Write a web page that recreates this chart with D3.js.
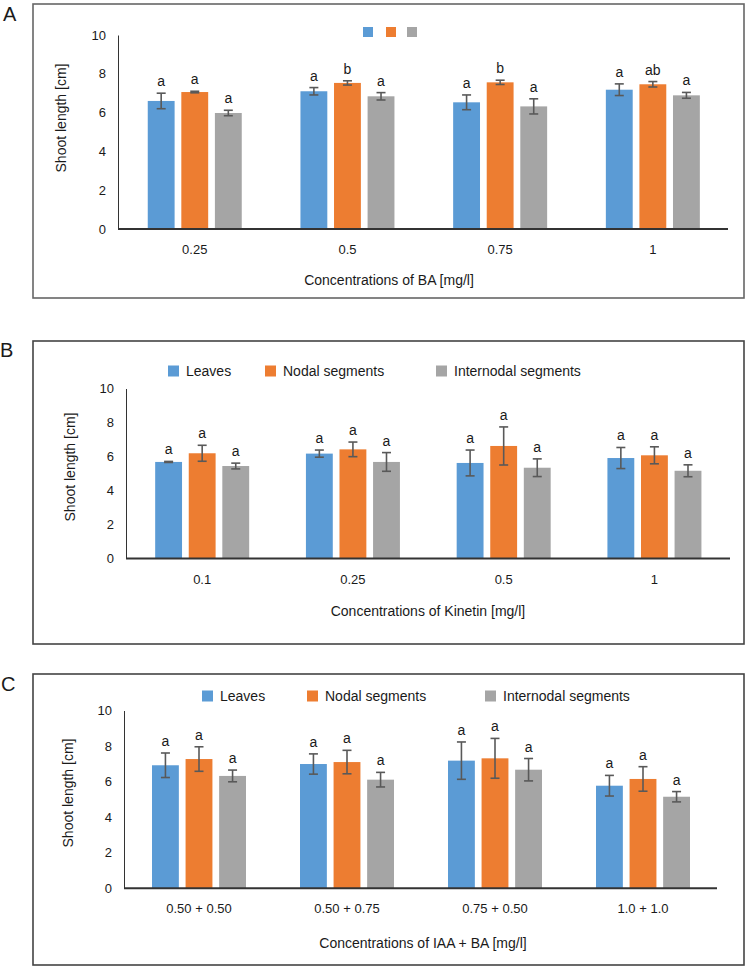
<!DOCTYPE html>
<html>
<head>
<meta charset="utf-8">
<script src="https://cdn.jsdelivr.net/npm/d3@7"></script>
<style>
  body { margin: 0; background: #fff; }
  svg text { font-family: "Liberation Sans", Arial, sans-serif; fill: #1a1a1a; }
</style>
</head>
<body>
<div id="VisContainer"></div>
<script>
// data
var seriesNames = ["Leaves", "Nodal segments", "Internodal segments"];
var seriesColors = ["#5B9BD5", "#ED7D31", "#A5A5A5"];
var yTicks = [0, 2, 4, 6, 8, 10];

var catsA = ["0.25", "0.5", "0.75", "1"];
var meanA = [[6.60, 7.06, 5.98], [7.10, 7.53, 6.84], [6.53, 7.56, 6.32], [7.18, 7.46, 6.89]];
var errA  = [[0.40, 0.04, 0.14], [0.19, 0.11, 0.19], [0.38, 0.11, 0.39], [0.30, 0.14, 0.15]];
var lettersA = [["a", "a", "a"], ["a", "b", "a"], ["a", "b", "a"], ["a", "ab", "a"]];

var catsB = ["0.1", "0.25", "0.5", "1"];
var meanB = [[5.68, 6.19, 5.44], [6.17, 6.42, 5.68], [5.62, 6.62, 5.34], [5.91, 6.07, 5.16]];
var errB  = [[0.03, 0.47, 0.17], [0.21, 0.43, 0.55], [0.76, 1.12, 0.52], [0.62, 0.50, 0.35]];
var lettersB = [["a", "a", "a"], ["a", "a", "a"], ["a", "a", "a"], ["a", "a", "a"]];

var catsC = ["0.50 + 0.50", "0.50 + 0.75", "0.75 + 0.50", "1.0 + 1.0"];
var meanC = [[6.92, 7.27, 6.32], [6.99, 7.10, 6.11], [7.18, 7.31, 6.67], [5.77, 6.15, 5.15]];
var errC  = [[0.69, 0.69, 0.33], [0.57, 0.66, 0.41], [1.05, 1.12, 0.63], [0.58, 0.69, 0.29]];
var lettersC = [["a", "a", "a"], ["a", "a", "a"], ["a", "a", "a"], ["a", "a", "a"]];

var width = 748, height = 970;

var svg = d3.select("#VisContainer").append("svg")
    .attr("width", width)
    .attr("height", height);

// layout of the three panels
var panels = [
  { letter: "A", letterPos: [3, 21], frame: [33, 4, 744, 298], frameColor: "#666",
    cats: catsA, mean: meanA, err: errA, letters: lettersA,
    axisX: [118, 728], xRange: [118.4, 729.2], y0: 229, y10: 35, tickY: 249,
    title: "Concentrations of BA [mg/l]", titleX: 389, titleY: 280,
    yTitleX: 61, yTitleY: 118,
    legend: { y: 32, squares: [363, 386, 407], size: 10, text: false } },
  { letter: "B", letterPos: [0, 357], frame: [33, 341, 744, 644], frameColor: "#444",
    cats: catsB, mean: meanB, err: errB, letters: lettersB,
    axisX: [126, 730], xRange: [126.8, 729.8], y0: 558.5, y10: 388.5, tickY: 579,
    title: "Concentrations of Kinetin [mg/l]", titleX: 428, titleY: 611,
    yTitleX: 70, yTitleY: 467,
    legend: { y: 371, squares: [168, 265, 436], size: 11, text: true } },
  { letter: "C", letterPos: [1, 691], frame: [33, 674, 744, 965], frameColor: "#444",
    cats: catsC, mean: meanC, err: errC, letters: lettersC,
    axisX: [124, 717], xRange: [125, 717], y0: 888.3, y10: 710.5, tickY: 908,
    title: "Concentrations of IAA + BA [mg/l]", titleX: 423, titleY: 943,
    yTitleX: 68, yTitleY: 793,
    legend: { y: 696, squares: [202, 307, 485], size: 11, text: true } }
];

panels.forEach(drawPanel);

function drawPanel(p) {
  var g = svg.append("g");

  g.append("rect")
    .attr("x", p.frame[0]).attr("y", p.frame[1])
    .attr("width", p.frame[2] - p.frame[0])
    .attr("height", p.frame[3] - p.frame[1])
    .attr("fill", "none")
    .attr("stroke", p.frameColor)
    .attr("stroke-width", 1.6);

  g.append("text")
    .attr("x", p.letterPos[0]).attr("y", p.letterPos[1])
    .style("font-size", "20px")
    .text(p.letter);

  var x = d3.scaleBand().domain(p.cats).range(p.xRange).padding(0);
  var xs = d3.scaleBand().domain(seriesNames).range([-47, 47]).paddingInner(0.2);
  var y = d3.scaleLinear().domain([0, 10]).range([p.y0, p.y10]);

  // y axis: line + labels, no ticks
  var yAxis = g.append("g")
    .attr("transform", "translate(" + p.axisX[0] + ",0)")
    .call(d3.axisLeft(y).tickValues(yTicks).tickSize(0).tickPadding(12));
  yAxis.select(".domain").attr("stroke", "#333").attr("stroke-width", 1);
  yAxis.selectAll("text")
    .style("font-size", "13px")
    .style("font-family", "Liberation Sans, Arial, sans-serif")
    .attr("fill", "#1a1a1a");

  g.append("text")
    .attr("transform", "translate(" + p.yTitleX + "," + p.yTitleY + ") rotate(-90)")
    .attr("text-anchor", "middle")
    .attr("dy", "0.35em")
    .style("font-size", "14px")
    .text("Shoot length [cm]");

  // bars
  var groups = g.selectAll("g.grp")
    .data(p.cats)
    .enter().append("g")
    .attr("class", "grp")
    .attr("transform", function(d) { return "translate(" + (x(d) + x.bandwidth() / 2) + ",0)"; });

  groups.each(function(cat, ci) {
    var gg = d3.select(this);
    var rows = seriesNames.map(function(s, si) {
      return { s: s, si: si, v: p.mean[ci][si], e: p.err[ci][si], l: p.letters[ci][si] };
    });

    gg.selectAll("rect")
      .data(rows)
      .enter().append("rect")
      .attr("x", function(d) { return xs(d.s); })
      .attr("width", xs.bandwidth())
      .attr("y", function(d) { return y(d.v); })
      .attr("height", function(d) { return p.y0 - y(d.v); })
      .attr("fill", function(d) { return seriesColors[d.si]; });

    var eb = gg.selectAll("g.err")
      .data(rows)
      .enter().append("g")
      .attr("class", "err")
      .attr("transform", function(d) { return "translate(" + (xs(d.s) + xs.bandwidth() / 2) + ",0)"; })
      .attr("stroke", "#595959")
      .attr("stroke-width", 1.6);
    eb.append("line")
      .attr("y1", function(d) { return y(d.v + d.e); })
      .attr("y2", function(d) { return y(d.v - d.e); });
    eb.append("line")
      .attr("x1", -4.5).attr("x2", 4.5)
      .attr("y1", function(d) { return y(d.v + d.e); })
      .attr("y2", function(d) { return y(d.v + d.e); });
    eb.append("line")
      .attr("x1", -4.5).attr("x2", 4.5)
      .attr("y1", function(d) { return y(d.v - d.e); })
      .attr("y2", function(d) { return y(d.v - d.e); });

    gg.selectAll("text.lbl")
      .data(rows)
      .enter().append("text")
      .attr("class", "lbl")
      .attr("x", function(d) { return xs(d.s) + xs.bandwidth() / 2; })
      .attr("y", function(d) { return y(d.v + d.e) - 7; })
      .attr("text-anchor", "middle")
      .style("font-size", "14px")
      .text(function(d) { return d.l; });
  });

  // x axis line
  g.append("line")
    .attr("x1", p.axisX[0]).attr("x2", p.axisX[1])
    .attr("y1", p.y0).attr("y2", p.y0)
    .attr("stroke", "#333")
    .attr("stroke-width", 2);

  g.selectAll("text.xt")
    .data(p.cats)
    .enter().append("text")
    .attr("class", "xt")
    .attr("x", function(d) { return x(d) + x.bandwidth() / 2; })
    .attr("y", p.tickY)
    .attr("dy", "0.35em")
    .attr("text-anchor", "middle")
    .style("font-size", "13px")
    .text(function(d) { return d; });

  g.append("text")
    .attr("x", p.titleX).attr("y", p.titleY)
    .attr("dy", "0.35em")
    .attr("text-anchor", "middle")
    .style("font-size", "14px")
    .text(p.title);

  // legend
  var lg = g.selectAll("g.leg")
    .data(seriesNames)
    .enter().append("g")
    .attr("class", "leg")
    .attr("transform", function(d, i) { return "translate(" + p.legend.squares[i] + "," + p.legend.y + ")"; });
  lg.append("rect")
    .attr("x", 0).attr("y", -p.legend.size / 2)
    .attr("width", p.legend.size).attr("height", p.legend.size)
    .attr("fill", function(d, i) { return seriesColors[i]; });
  if (p.legend.text) {
    lg.append("text")
      .attr("x", p.legend.size + 7)
      .attr("dy", "0.35em")
      .style("font-size", "14px")
      .text(function(d) { return d; });
  }
}
</script>
</body>
</html>
